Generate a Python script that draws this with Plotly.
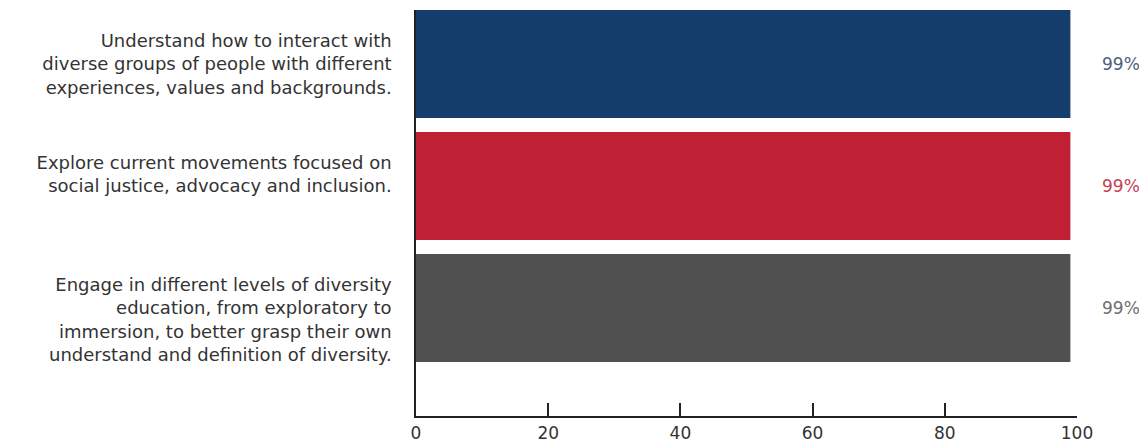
import plotly.graph_objects as go

categories = [
    "Engage in different levels of diversity<br>education, from exploratory to<br>immersion, to better grasp their own<br>understand and definition of diversity.",
    "Explore current movements focused on<br>social justice, advocacy and inclusion.",
    "Understand how to interact with<br>diverse groups of people with different<br>experiences, values and backgrounds.",
]
values = [99, 99, 99]
labels = ["99%", "99%", "99%"]
bar_colors = ["#505050", "#c02033", "#143d6b"]
label_colors = ["#707070", "#c8414f", "#4d5f7d"]
x_ticks = [0, 20, 40, 60, 80, 100]

FONT = "DejaVu Sans"

# the reference's labels sit a little off-centre; pad with blank lines to mimic
tick_text = ["<br>" + categories[0], categories[1] + "<br>", categories[2]]

fig = go.Figure()
fig.add_trace(go.Bar(
    y=list(range(len(categories))),
    x=values,
    orientation="h",
    marker=dict(color=bar_colors, line=dict(width=0)),
    width=0.885,
    hoverinfo="skip",
))

for i, (lab, col) in enumerate(zip(labels, label_colors)):
    fig.add_annotation(
        x=1.066, y=i, xref="paper", yref="y", text=lab, showarrow=False,
        font=dict(family=FONT, size=17, color=col), xanchor="center",
    )

# page body has an 8px margin, so the figure is drawn 8px smaller
fig.update_layout(
    width=1139, height=438,
    margin=dict(l=408, r=70, t=2, b=30, autoexpand=False),
    paper_bgcolor="white", plot_bgcolor="white",
    showlegend=False,
    font=dict(family=FONT, size=17, color="#333333"),
)
fig.update_xaxes(
    range=[0, 100], tickvals=x_ticks, ticktext=[str(v) for v in x_ticks],
    showgrid=False, zeroline=False, showline=True, linecolor="#222222", linewidth=1.5,
    ticks="inside", ticklen=13, tickwidth=1.5, tickcolor="#222222",
    tickfont=dict(family=FONT, size=17, color="#333333"),
    ticklabelstandoff=1, automargin=False,
)
fig.update_yaxes(
    range=[-0.885, 2.443], tickvals=list(range(len(categories))), ticktext=tick_text,
    showgrid=False, zeroline=False, showline=True, linecolor="#222222", linewidth=1.5,
    ticks="", ticklabelstandoff=19, automargin=False,
    tickfont=dict(family=FONT, size=18, color="#333333"),
)

fig.write_html("out.html")
